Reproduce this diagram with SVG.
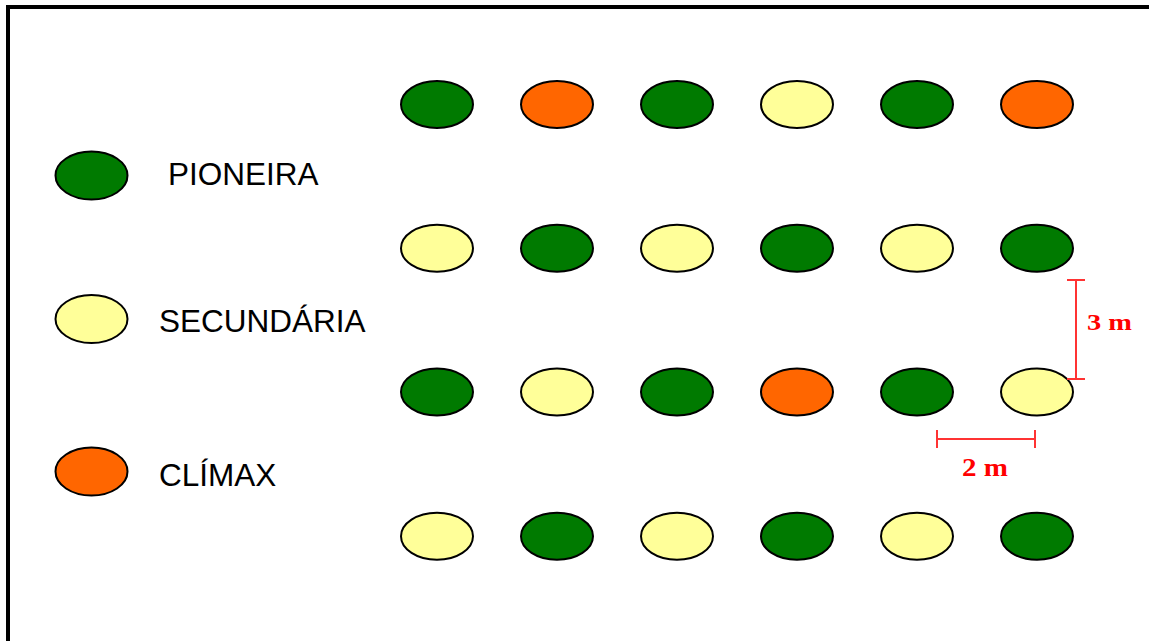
<svg xmlns="http://www.w3.org/2000/svg" width="1149" height="641" viewBox="0 0 1149 641">
<style>
.p{fill:#007A00;stroke:#000;stroke-width:2}
.s{fill:#FFFF99;stroke:#000;stroke-width:2}
.c{fill:#FF6600;stroke:#000;stroke-width:2}
.lbl{font-family:"Liberation Sans",Arial,sans-serif;font-size:31.5px;fill:#000}
.dim{stroke:#FF3333;stroke-width:2;fill:none}
.dt{font-family:"Liberation Serif","Times New Roman",serif;font-weight:bold;fill:#FF0000}
</style>
<rect width="1149" height="641" fill="#fff"/>
<path d="M8 641 V7 H1149" fill="none" stroke="#000" stroke-width="4"/>
<g id="legend">
<g id="leg-pioneira"><ellipse class="p" cx="91.5" cy="175.5" rx="36" ry="24"/><text class="lbl" x="168" y="185">PIONEIRA</text></g>
<g id="leg-secundaria"><ellipse class="s" cx="91.5" cy="319" rx="36" ry="24"/><text class="lbl" x="159" y="332">SECUNDÁRIA</text></g>
<g id="leg-climax"><ellipse class="c" cx="91.5" cy="471.5" rx="36" ry="24"/><text class="lbl" x="159" y="486">CLÍMAX</text></g>
</g>
<g id="row1">
<ellipse class="p" cx="437" cy="104.5" rx="36" ry="23.5"/>
<ellipse class="c" cx="557" cy="104.5" rx="36" ry="23.5"/>
<ellipse class="p" cx="677" cy="104.5" rx="36" ry="23.5"/>
<ellipse class="s" cx="797" cy="104.5" rx="36" ry="23.5"/>
<ellipse class="p" cx="917" cy="104.5" rx="36" ry="23.5"/>
<ellipse class="c" cx="1037" cy="104.5" rx="36" ry="23.5"/>
</g>
<g id="row2">
<ellipse class="s" cx="437" cy="248.3" rx="36" ry="23.5"/>
<ellipse class="p" cx="557" cy="248.3" rx="36" ry="23.5"/>
<ellipse class="s" cx="677" cy="248.3" rx="36" ry="23.5"/>
<ellipse class="p" cx="797" cy="248.3" rx="36" ry="23.5"/>
<ellipse class="s" cx="917" cy="248.3" rx="36" ry="23.5"/>
<ellipse class="p" cx="1037" cy="248.3" rx="36" ry="23.5"/>
</g>
<g id="row3">
<ellipse class="p" cx="437" cy="392" rx="36" ry="23.5"/>
<ellipse class="s" cx="557" cy="392" rx="36" ry="23.5"/>
<ellipse class="p" cx="677" cy="392" rx="36" ry="23.5"/>
<ellipse class="c" cx="797" cy="392" rx="36" ry="23.5"/>
<ellipse class="p" cx="917" cy="392" rx="36" ry="23.5"/>
<ellipse class="s" cx="1037" cy="392" rx="36" ry="23.5"/>
</g>
<g id="row4">
<ellipse class="s" cx="437" cy="536.3" rx="36" ry="23.5"/>
<ellipse class="p" cx="557" cy="536.3" rx="36" ry="23.5"/>
<ellipse class="s" cx="677" cy="536.3" rx="36" ry="23.5"/>
<ellipse class="p" cx="797" cy="536.3" rx="36" ry="23.5"/>
<ellipse class="s" cx="917" cy="536.3" rx="36" ry="23.5"/>
<ellipse class="p" cx="1037" cy="536.3" rx="36" ry="23.5"/>
</g>
<g id="dim-3m">
<path class="dim" d="M1076 280 V379 M1067 280 H1085 M1067 379 H1085"/>
<text class="dt" x="1087" y="330" font-size="23" textLength="45" lengthAdjust="spacingAndGlyphs">3 m</text>
</g>
<g id="dim-2m">
<path class="dim" d="M937 439 H1035 M937 430 V448 M1035 430 V448"/>
<text class="dt" x="962" y="476" font-size="26" textLength="46" lengthAdjust="spacingAndGlyphs">2 m</text>
</g>
</svg>
